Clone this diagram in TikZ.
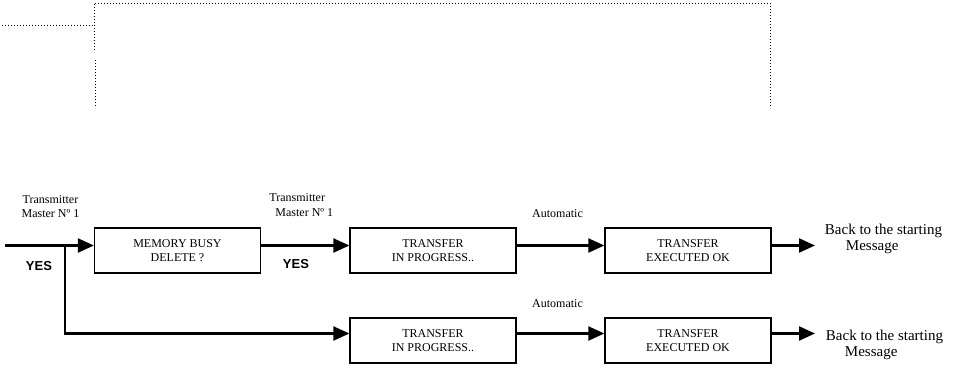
\documentclass[tikz,border=0pt]{standalone}
\usepackage{fontspec}
\setmainfont{Liberation Serif}
\newfontfamily\yesfont{Liberation Sans}
\usetikzlibrary{arrows.meta}

\begin{document}
\begin{tikzpicture}[x=1pt, y=-1pt]

		\tikzset{
			stepbox/.style={draw, line width=1.3pt, minimum width=166pt, minimum height=45pt, inner sep=0pt, align=center, font=\fontsize{12}{14.5}\selectfont},
			flow/.style={line width=2.2pt, -{Triangle[length=16pt,width=14pt]}},
			note/.style={align=center, inner sep=0pt, font=\fontsize{12}{14.5}\selectfont},
			yesmark/.style={inner sep=0pt, font=\yesfont\bfseries\fontsize{13}{14}\selectfont},
			backtext/.style={align=left, inner sep=0pt, font=\fontsize{15}{16.8}\selectfont},
			frame/.style={line width=1pt, dash pattern=on 1pt off 2pt},
		}

		\useasboundingbox (0,0) rectangle (955,367);

		% dotted frame at the top
		\draw [frame] (2,25) -- (94,25);
		\draw [frame] (94,50) -- (94,3) -- (770,3) -- (770,108);
		\draw [frame] (95,60) -- (95,108);

		% upper row
		\node [stepbox] (busy) at (177.5,250.5) {MEMORY BUSY\\DELETE ?};
		\node [stepbox] (prog) at (433,250.5) {TRANSFER\\IN PROGRESS..};
		\node [stepbox] (done) at (688,250.5) {TRANSFER\\EXECUTED OK};

		% lower row
		\node [stepbox] (progb) at (433,340.5) {TRANSFER\\IN PROGRESS..};
		\node [stepbox] (doneb) at (688,340.5) {TRANSFER\\EXECUTED OK};

		\coordinate (start) at (5,245.5);
		\coordinate (fork) at (65,245.5);
		\coordinate (endA) at (815,245.5);
		\coordinate (endB) at (815,333.5);

		\draw [flow] (start) -- ([yshift=5pt]busy.west);
		\draw [flow] (fork) |- ([yshift=7pt]progb.west);
		\draw [flow] ([yshift=5pt]busy.east) -- ([yshift=5pt]prog.west);
		\draw [flow] ([yshift=5pt]prog.east) -- ([yshift=5pt]done.west);
		\draw [flow] ([yshift=7pt]progb.east) -- ([yshift=7pt]doneb.west);
		\draw [flow] ([yshift=5pt]done.east) -- (endA);
		\draw [flow] ([yshift=7pt]doneb.east) -- (endB);

		\node [note] (txA) at (50.5,206.5) {Transmitter\\Master N\textordmasculine\ 1};
		\node [note, align=left] (txB) at (301.3,205) {Transmitter\\\hspace*{6pt}Master N\textordmasculine\ 1};
		\node [yesmark] (yesA) at (39,266) {YES};
		\node [yesmark] (yesB) at (296,264) {YES};
		\node [note] (autoA) at (557.5,213.5) {Automatic};
		\node [note] (autoB) at (557.5,303.5) {Automatic};

		\node [backtext] (backA) at (883.5,239) {Back to the starting\\\hspace*{21pt}Message};
		\node [backtext] (backB) at (884.5,345) {Back to the starting\\\hspace*{19pt}Message};

\end{tikzpicture}
\end{document}
